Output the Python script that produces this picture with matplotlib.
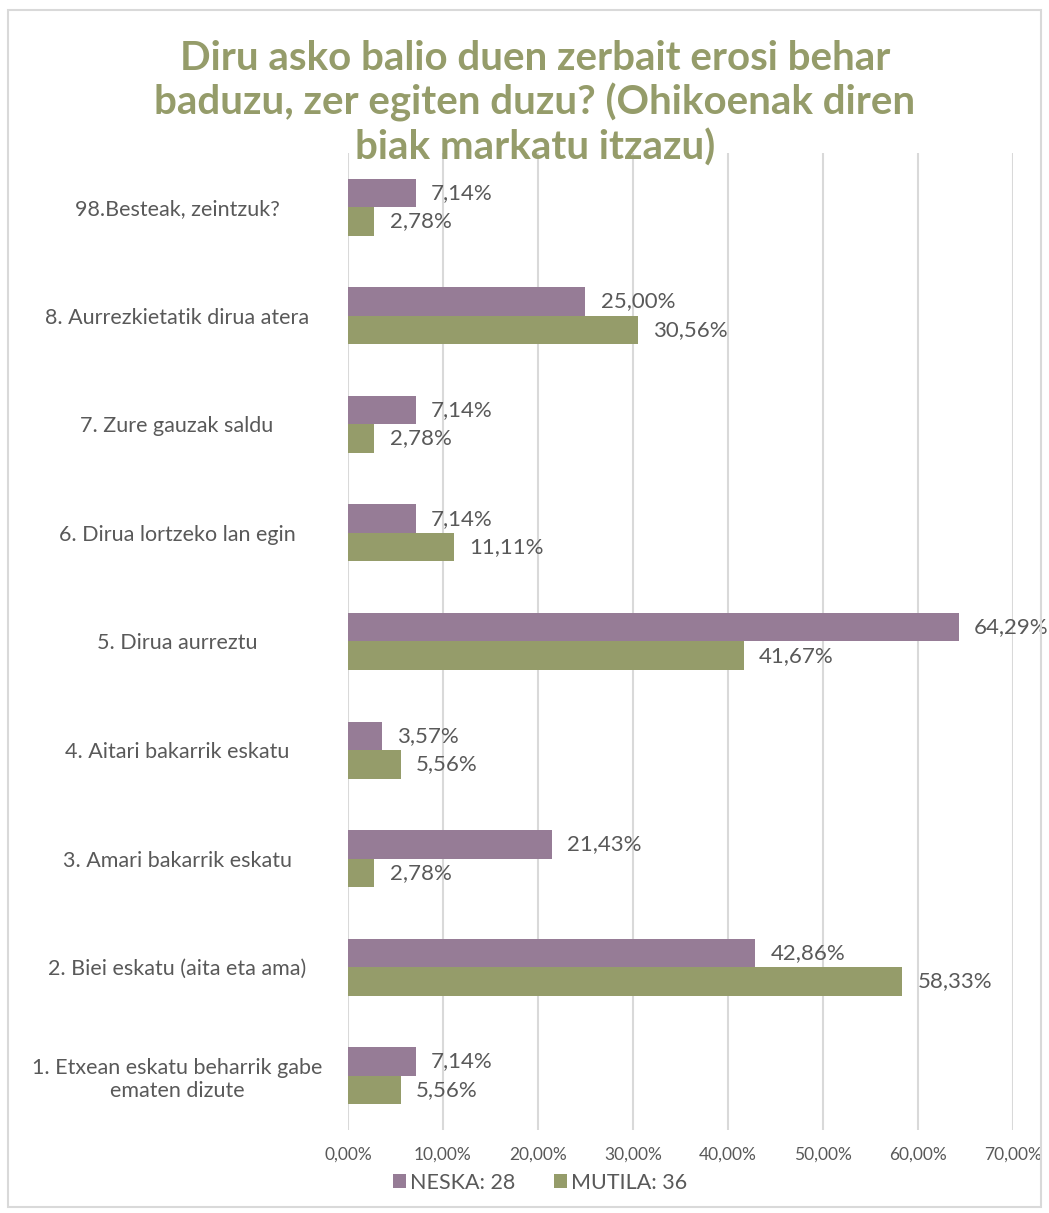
import numpy as np
import matplotlib.pyplot as plt
from matplotlib.patches import Rectangle

# --- data ---
categories = [
    "1. Etxean eskatu beharrik gabe\nematen dizute",
    "2. Biei eskatu (aita eta ama)",
    "3. Amari bakarrik eskatu",
    "4. Aitari bakarrik eskatu",
    "5. Dirua aurreztu",
    "6. Dirua lortzeko lan egin",
    "7. Zure gauzak saldu",
    "8. Aurrezkietatik dirua atera",
    "98.Besteak, zeintzuk?",
]
neska = [7.14, 42.86, 21.43, 3.57, 64.29, 7.14, 7.14, 25.00, 7.14]
mutila = [5.56, 58.33, 2.78, 5.56, 41.67, 11.11, 2.78, 30.56, 2.78]
series_names = ["NESKA: 28", "MUTILA: 36"]
ticks = [0, 10, 20, 30, 40, 50, 60, 70]

title = "Diru asko balio duen zerbait erosi behar\nbaduzu, zer egiten duzu? (Ohikoenak diren\nbiak markatu itzazu)"

c_neska = "#967C96"
c_mutila = "#959C6A"
c_title = "#959C6A"
c_text = "#595959"
c_grid = "#D9D9D9"

plt.rcParams['font.family'] = ['Lato', 'DejaVu Sans']

fig = plt.figure(figsize=(10.49, 12.13), dpi=100)
ax = fig.add_axes([0.3317, 0.0684, 0.634, 0.8055])

y = np.arange(len(categories))
h = 0.262
ax.barh(y + h / 2, neska, height=h, color=c_neska, label=series_names[0], zorder=3)
ax.barh(y - h / 2, mutila, height=h, color=c_mutila, label=series_names[1], zorder=3)

def fmt(v):
    return f"{v:.2f}".replace(".", ",") + "%"

for yi, v in zip(y, neska):
    ax.text(v + 1.6, yi + h / 2, fmt(v), va="center", ha="left", fontsize=16, color=c_text)
for yi, v in zip(y, mutila):
    ax.text(v + 1.6, yi - h / 2, fmt(v), va="center", ha="left", fontsize=16, color=c_text)

ax.set_xlim(0, 70)
ax.set_ylim(-0.5, len(categories) - 0.5)
ax.set_xticks(ticks)
ax.set_xticklabels([f"{t:.2f}".replace(".", ",") + "%" for t in ticks], fontsize=12.5, color=c_text)
ax.set_yticks(y)
ax.set_yticklabels(categories, fontsize=15.5, color=c_text, ha="center")
ax.tick_params(axis="y", length=0, pad=123)
ax.tick_params(axis="x", length=0, pad=12)
ax.grid(axis="x", color=c_grid, linewidth=1.5, zorder=0)
for s in ax.spines.values():
    s.set_visible(False)

fig.text(0.51, 0.967, title, ha="center", va="top", fontsize=29, fontweight="bold",
         color=c_title, linespacing=1.2)

fig.legend(loc="center", bbox_to_anchor=(0.515, 0.025), ncol=2, frameon=False,
           fontsize=15.5, labelcolor=c_text, handlelength=0.6, handleheight=0.6,
           handletextpad=0.2, columnspacing=1.8)

fig.patches.append(Rectangle((0.008, 0.005), 0.984, 0.987, transform=fig.transFigure,
                             fill=False, edgecolor=c_grid, linewidth=1.5))

fig.savefig("out.png", dpi=100)
